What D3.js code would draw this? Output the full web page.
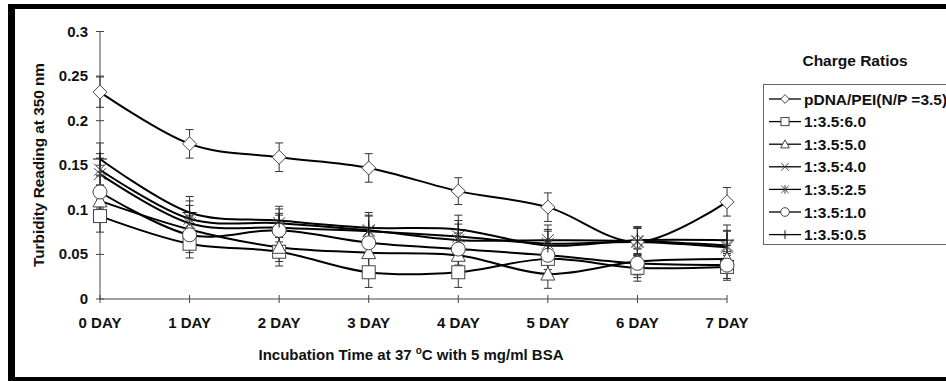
<!DOCTYPE html>
<html>
<head>
<meta charset="utf-8">
<script src="https://cdn.jsdelivr.net/npm/d3@7"></script>
<style>
  body { margin: 0; background: #fff; }
  svg { display: block; font-family: "Liberation Sans", Arial, sans-serif; }
  .tick-label { font-weight: bold; font-size: 15px; fill: #111; }
  .title { font-weight: bold; font-size: 15px; fill: #111; }
</style>
</head>
<body>
<svg width="946" height="381"></svg>
<script>
// categories
var days = ["0 DAY", "1 DAY", "2 DAY", "3 DAY", "4 DAY", "5 DAY", "6 DAY", "7 DAY"];
var yTicks = [0, 0.05, 0.1, 0.15, 0.2, 0.25, 0.3];
var yTickLabels = ["0", "0.05", "0.1", "0.15", "0.2", "0.25", "0.3"];

// series (turbidity readings) and error bars
var seriesNames = ["pDNA/PEI(N/P =3.5)", "1:3.5:6.0", "1:3.5:5.0", "1:3.5:4.0", "1:3.5:2.5", "1:3.5:1.0", "1:3.5:0.5"];
var seriesMarkers = ["diamond", "square", "triangle", "x", "asterisk", "circle", "plus"];
var pDNA   = [0.232, 0.174, 0.159, 0.147, 0.121, 0.103, 0.064, 0.109];
var r60    = [0.093, 0.062, 0.053, 0.030, 0.030, 0.045, 0.035, 0.036];
var r50    = [0.110, 0.078, 0.058, 0.052, 0.049, 0.028, 0.042, 0.045];
var r40    = [0.140, 0.085, 0.080, 0.076, 0.070, 0.062, 0.064, 0.058];
var r25    = [0.145, 0.090, 0.085, 0.077, 0.066, 0.066, 0.065, 0.060];
var r10    = [0.120, 0.072, 0.077, 0.063, 0.056, 0.049, 0.040, 0.038];
var r05    = [0.157, 0.097, 0.088, 0.080, 0.078, 0.060, 0.066, 0.066];
var errPDNA = [0.017, 0.016, 0.016, 0.016, 0.015, 0.016, 0.016, 0.016];
var err60   = [0.018, 0.016, 0.016, 0.017, 0.017, 0.016, 0.015, 0.015];
var err50   = [0.018, 0.016, 0.016, 0.017, 0.017, 0.016, 0.015, 0.015];
var err40   = [0.018, 0.020, 0.016, 0.017, 0.018, 0.016, 0.015, 0.018];
var err25   = [0.018, 0.020, 0.016, 0.017, 0.018, 0.017, 0.016, 0.017];
var err10   = [0.018, 0.020, 0.017, 0.017, 0.018, 0.016, 0.016, 0.015];
var err05   = [0.018, 0.018, 0.016, 0.017, 0.016, 0.016, 0.015, 0.017];

var allValues = [pDNA, r60, r50, r40, r25, r10, r05];
var allErrors = [errPDNA, err60, err50, err40, err25, err10, err05];

var svg = d3.select("svg");

// outer thick frame (right edge is cut off in the picture)
svg.append("rect").attr("x", 8).attr("y", 4).attr("width", 1000).attr("height", 377).attr("fill", "#000");
svg.append("rect").attr("x", 15).attr("y", 9).attr("width", 1000).attr("height", 368).attr("fill", "#fff");

var x = d3.scalePoint().domain(days).range([100, 727]);
var y = d3.scaleLinear().domain([0, 0.3]).range([299, 31.5]);

var axisColor = "#444";

// y axis
svg.append("line").attr("x1", 100).attr("x2", 100).attr("y1", y(0.3)).attr("y2", y(0))
  .attr("stroke", axisColor).attr("stroke-width", 1);
svg.selectAll(".ytick").data(yTicks).enter().append("line")
  .attr("x1", 96).attr("x2", 104)
  .attr("y1", function(d){ return y(d) }).attr("y2", function(d){ return y(d) })
  .attr("stroke", axisColor);
svg.selectAll(".ylab").data(yTicks).enter().append("text")
  .attr("class", "tick-label")
  .attr("x", 88).attr("y", function(d){ return y(d) + 5 })
  .attr("text-anchor", "end")
  .text(function(d, i){ return yTickLabels[i] });

// x axis
svg.append("line").attr("x1", x(days[0])).attr("x2", x(days[7])).attr("y1", y(0)).attr("y2", y(0))
  .attr("stroke", axisColor).attr("stroke-width", 1);
svg.selectAll(".xtick").data(days).enter().append("line")
  .attr("x1", function(d){ return x(d) }).attr("x2", function(d){ return x(d) })
  .attr("y1", y(0) - 4).attr("y2", y(0) + 4)
  .attr("stroke", axisColor);
svg.selectAll(".xlab").data(days).enter().append("text")
  .attr("class", "tick-label")
  .attr("x", function(d){ return x(d) }).attr("y", 328)
  .attr("text-anchor", "middle")
  .text(function(d){ return d });

// axis titles
var xt = svg.append("text").attr("class", "title").attr("x", 411).attr("y", 360).attr("text-anchor", "middle");
xt.append("tspan").text("Incubation Time at 37 ");
xt.append("tspan").attr("dy", -6).attr("font-size", "10px").text("o");
xt.append("tspan").attr("dy", 6).text("C with 5 mg/ml BSA");

svg.append("text").attr("class", "title")
  .attr("transform", "translate(44,165) rotate(-90)")
  .attr("text-anchor", "middle")
  .attr("textLength", 204).attr("lengthAdjust", "spacingAndGlyphs")
  .text("Turbidity Reading at 350 nm");

// marker drawing
function drawMarker(g, type, cx, cy, k) {
  k = k || 1;
  var st = "#444", a = 7 * k, b = 6 * k;
  if (type === "diamond") {
    g.append("path").attr("d", "M" + cx + "," + (cy - a) + "L" + (cx + a) + "," + cy + "L" + cx + "," + (cy + a) + "L" + (cx - a) + "," + cy + "Z")
      .attr("fill", "#fff").attr("stroke", st);
  } else if (type === "square") {
    g.append("rect").attr("x", cx - 6.5 * k).attr("y", cy - 6.5 * k).attr("width", 13 * k).attr("height", 13 * k)
      .attr("fill", "#fff").attr("stroke", st);
  } else if (type === "triangle") {
    g.append("path").attr("d", "M" + cx + "," + (cy - a) + "L" + (cx + a) + "," + (cy + b) + "L" + (cx - a) + "," + (cy + b) + "Z")
      .attr("fill", "#fff").attr("stroke", st);
  } else if (type === "circle") {
    g.append("circle").attr("cx", cx).attr("cy", cy).attr("r", a)
      .attr("fill", "#fff").attr("stroke", st);
  } else if (type === "x") {
    g.append("path").attr("d", "M" + (cx - b) + "," + (cy - b) + "L" + (cx + b) + "," + (cy + b) + "M" + (cx + b) + "," + (cy - b) + "L" + (cx - b) + "," + (cy + b))
      .attr("stroke", st).attr("fill", "none");
  } else if (type === "asterisk") {
    g.append("path").attr("d", "M" + (cx - b) + "," + (cy - b) + "L" + (cx + b) + "," + (cy + b) + "M" + (cx + b) + "," + (cy - b) + "L" + (cx - b) + "," + (cy + b) + "M" + cx + "," + (cy - a) + "L" + cx + "," + (cy + a))
      .attr("stroke", st).attr("fill", "none");
  } else if (type === "plus") {
    g.append("path").attr("d", "M" + cx + "," + (cy - a) + "L" + cx + "," + (cy + a) + "M" + (cx - a) + "," + cy + "L" + (cx + a) + "," + cy)
      .attr("stroke", "#111").attr("fill", "none");
  }
}

var line = d3.line()
  .x(function(d, i){ return x(days[i]) })
  .y(function(d){ return y(d) })
  .curve(d3.curveCardinal.tension(0));

var plot = svg.append("g");

// lines
allValues.forEach(function(vals) {
  plot.append("path").datum(vals)
    .attr("d", line)
    .attr("fill", "none")
    .attr("stroke", "#000")
    .attr("stroke-width", 2);
});

// error bars
allValues.forEach(function(vals, s) {
  vals.forEach(function(v, i) {
    var cx = x(days[i]), e = allErrors[s][i];
    var g = plot.append("g").attr("stroke", "#333").attr("stroke-width", 1);
    g.append("line").attr("x1", cx).attr("x2", cx).attr("y1", y(v + e)).attr("y2", y(v - e));
    g.append("line").attr("x1", cx - 4).attr("x2", cx + 4).attr("y1", y(v + e)).attr("y2", y(v + e));
    g.append("line").attr("x1", cx - 4).attr("x2", cx + 4).attr("y1", y(v - e)).attr("y2", y(v - e));
  });
});

// markers
allValues.forEach(function(vals, s) {
  var g = plot.append("g");
  vals.forEach(function(v, i) {
    drawMarker(g, seriesMarkers[s], x(days[i]), y(v));
  });
});

// legend
svg.append("text").attr("x", 855).attr("y", 66).attr("text-anchor", "middle")
  .attr("font-weight", "bold").attr("font-size", "15.5px").attr("fill", "#111")
  .text("Charge Ratios");
svg.append("rect").attr("x", 763.5).attr("y", 84.5).attr("width", 300).attr("height", 160)
  .attr("fill", "#fff").attr("stroke", "#666");

seriesNames.forEach(function(name, i) {
  var ly = 99 + i * 22.6;
  var g = svg.append("g");
  g.append("line").attr("x1", 769).attr("x2", 801).attr("y1", ly).attr("y2", ly)
    .attr("stroke", "#000").attr("stroke-width", 1.3);
  drawMarker(g, seriesMarkers[i], 785, ly, 0.62);
  g.append("text").attr("x", 804).attr("y", ly + 5.5)
    .attr("font-weight", "bold").attr("font-size", "15.5px").attr("fill", "#111")
    .text(name);
});
</script>
</body>
</html>
